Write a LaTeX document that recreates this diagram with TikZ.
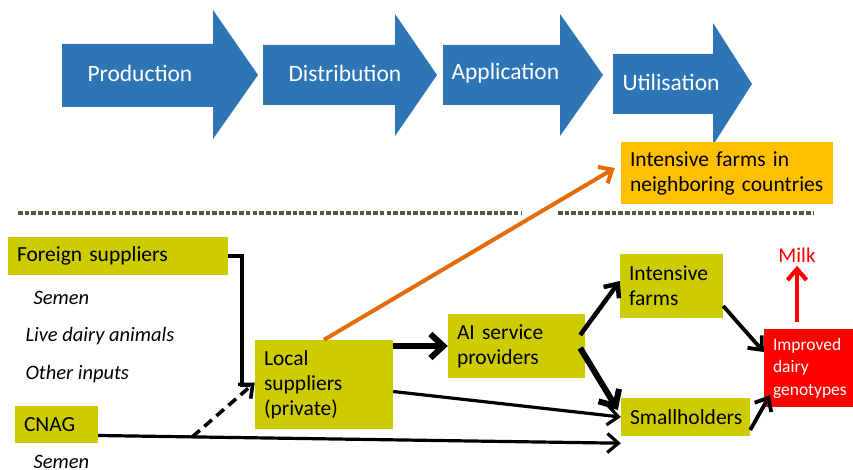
\documentclass[tikz,border=0pt]{standalone}
\usepackage{fontspec}
\setmainfont{Carlito}
\usetikzlibrary{arrows.meta,positioning}
\definecolor{stageblue}{HTML}{2E75B6}
\definecolor{boxolive}{HTML}{CCCC00}
\definecolor{boxamber}{HTML}{FFC000}
\definecolor{exportorange}{HTML}{E46C0A}
\definecolor{sepgray}{HTML}{57573F}

\begin{document}
\begin{tikzpicture}[x=1pt,y=-1pt,
    ybox/.style={fill=boxolive, inner xsep=9pt, inner ysep=0pt, align=left,
      font=\fontsize{21.5}{25}\selectfont},
    stagetext/.style={anchor=west, text=white, font=\fontsize{23.5}{28}\selectfont},
    itemtext/.style={anchor=west, font=\fontsize{20.5}{24}\selectfont\itshape},
    link/.style={line width=3.2pt, -{Straight Barb[length=11pt,width=19pt]}},
    boldlink/.style={line width=6pt, -{Straight Barb[length=13pt,width=24pt]}},
    seprule/.style={sepgray, line width=4.8pt, dash pattern=on 4.6pt off 2.1pt}]
  \useasboundingbox (0,0) rectangle (853,470);

  % value chain stages
  \fill[stageblue] (62,44) -- (213,44) -- (213,10) -- (258,75) -- (213,139) -- (213,107) -- (62,107) -- cycle;
  \fill[stageblue] (263,45) -- (395,45) -- (395,14) -- (437,75) -- (395,136) -- (395,105) -- (263,105) -- cycle;
  \fill[stageblue] (443,45) -- (560,45) -- (560,14) -- (603,75) -- (560,136) -- (560,105) -- (443,105) -- cycle;
  \fill[stageblue] (613,54) -- (713,54) -- (713,23) -- (752,84) -- (713,145) -- (713,114) -- (613,114) -- cycle;
  \node[stagetext] (production) at (84,73) {Production};
  \node[stagetext] (distribution) at (285,73) {Distribution};
  \node[stagetext] (application) at (448,73) {Application};
  \node[stagetext] (utilisation) at (619,82) {Utilisation};

  % separators
  \draw[seprule] (18,213) -- (522,213);
  \draw[seprule] (558,213) -- (813,213);

  % actors
  \node[ybox, fill=boxamber, minimum width=212pt, minimum height=62pt, text width=194pt] (neighbor) at (727,173) {Intensive farms in\\neighboring countries};
  \node[ybox, minimum width=220pt, minimum height=38pt, text width=202pt] (foreign) at (118,256) {Foreign suppliers};
  \node[ybox, minimum width=83pt, minimum height=37pt, text width=65pt] (cnag) at (56.5,424.5) {CNAG};
  \node[ybox, minimum width=138pt, minimum height=89pt, text width=120pt] (local) at (324,384.5) {Local\\suppliers\\(private)};
  \node[ybox, minimum width=137pt, minimum height=64pt, text width=119pt] (ai) at (516.5,346) {AI service\\providers};
  \node[ybox, minimum width=103pt, minimum height=64pt, text width=85pt] (intensive) at (671.5,286) {Intensive\\farms};
  \node[ybox, minimum width=129pt, minimum height=38pt, text width=111pt] (small) at (685.5,417) {Smallholders};
  \node[ybox, fill=red, text=white, minimum width=89pt, minimum height=78pt, text width=71pt,
    font=\fontsize{17.5}{22.5}\selectfont] (improved) at (808.5,368) {Improved\\dairy\\genotypes};
  \node[text=red, font=\fontsize{21}{25}\selectfont] (milk) at (797,255) {Milk};

  % inputs
  \node[itemtext] (semenf) at (30,298) {Semen};
  \node[itemtext] (animals) at (22,336) {Live dairy animals};
  \node[itemtext] (inputs) at (22,374) {Other inputs};
  \node[itemtext] (semenc) at (30,462) {Semen};

  % flows
  \coordinate (bend) at (242,385);
  \draw[line width=3.2pt] (foreign.east) -| (bend) -- ++(8,0);
  \draw[link] ([yshift=-11pt]cnag.east) -- ([yshift=-7pt]small.south west)
    coordinate[pos=0.18] (split);
  \draw[link, line width=3.6pt, dash pattern=on 10pt off 6pt] (split) -- ([yshift=2pt]local.west);
  \draw[link, exportorange, line width=4pt] (local.north) -- ([xshift=-6pt,yshift=5pt]neighbor.west);
  \draw[boldlink] (local.east |- ai.west) -- (ai.west);
  \draw[link] ([yshift=-7pt]local.east) -- (small.west);
  \draw[link, line width=4.5pt] ([xshift=-5pt,yshift=11pt]ai.east) -- ([yshift=5pt]intensive.west);
  \draw[boldlink] ([xshift=-5pt,yshift=-2pt]ai.east) -- ([xshift=-3pt,yshift=7pt]small.west);
  \draw[link, line width=3.8pt] ([yshift=-20pt]intensive.east) -- ([yshift=16pt]improved.west);
  \draw[link, line width=3.8pt] ([yshift=-13pt]small.east) -- ([xshift=6pt,yshift=12pt]improved.south west);
  \draw[link, red, line width=4.2pt] ([yshift=7pt]improved.north -| milk) -- (milk.south);
\end{tikzpicture}
\end{document}
